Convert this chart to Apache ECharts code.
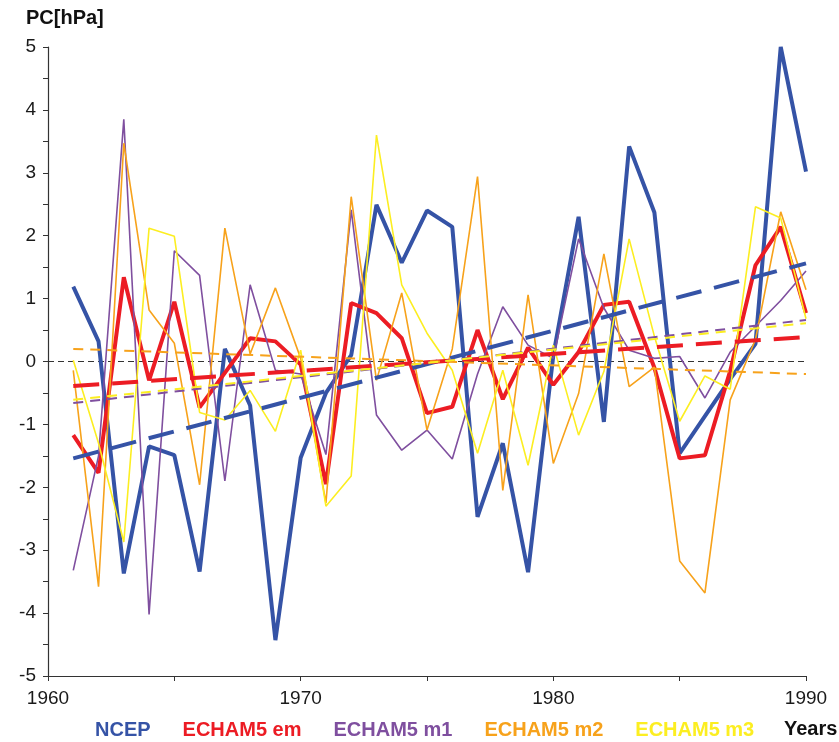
<!DOCTYPE html>
<html>
<head>
<meta charset="utf-8">
<script src="https://cdn.jsdelivr.net/npm/echarts@6/dist/echarts.min.js"></script>
<style>
  html, body { margin: 0; padding: 0; background: #fff; }
  #main { width: 839px; height: 742px; }
</style>
</head>
<body>
<div id="main"></div>
<script>
// years of the PC series
const years = [1961, 1962, 1963, 1964, 1965, 1966, 1967, 1968, 1969, 1970,
  1971, 1972, 1973, 1974, 1975, 1976, 1977, 1978, 1979, 1980,
  1981, 1982, 1983, 1984, 1985, 1986, 1987, 1988, 1989, 1990];

const ncep = [1.19, 0.32, -3.37, -1.35, -1.49, -3.34, 0.2, -0.7, -4.43, -1.53,
  -0.5, 0.1, 2.49, 1.57, 2.4, 2.14, -2.47, -1.3, -3.35, 0.1,
  2.3, -0.96, 3.42, 2.37, -1.46, -0.87, -0.28, 0.28, 5.0, 3.02];
const echamEm = [-1.17, -1.77, 1.34, -0.3, 0.95, -0.73, -0.18, 0.37, 0.32, -0.05,
  -1.95, 0.93, 0.77, 0.37, -0.82, -0.72, 0.5, -0.6, 0.22, -0.37,
  0.15, 0.9, 0.95, -0.1, -1.54, -1.49, -0.15, 1.53, 2.14, 0.77];
const echamM1 = [-3.32, -1.5, 3.85, -4.02, 1.76, 1.37, -1.9, 1.22, -0.14, -0.2,
  -1.48, 2.41, -0.85, -1.41, -1.09, -1.55, -0.2, 0.87, 0.26, 0.05,
  1.95, 0.85, 0.18, 0.05, 0.08, -0.58, 0.15, 0.56, 0.97, 1.44];
const echamM2 = [-0.14, -3.58, 3.47, 0.82, 0.29, -1.96, 2.12, 0.12, 1.17, 0.05,
  -2.25, 2.62, -0.3, 1.09, -1.09, 0.2, 2.94, -2.05, 1.06, -1.62,
  -0.51, 1.71, -0.4, -0.09, -3.17, -3.68, -0.61, 0.35, 2.38, 1.14];
const echamM3 = [0.02, -1.3, -2.87, 2.12, 1.99, -0.81, -0.93, -0.46, -1.11, 0.18,
  -2.3, -1.82, 3.6, 1.22, 0.45, -0.14, -1.46, -0.14, -1.65, 0.26,
  -1.17, -0.16, 1.95, 0.4, -0.95, -0.23, -0.44, 2.46, 2.28, 0.68];

// linear trends, value at first and last year
const trendNcep = [-1.54, 1.56];
const trendEm = [-0.39, 0.39];
const trendM1 = [-0.66, 0.66];
const trendM2 = [0.2, -0.2];
const trendM3 = [-0.61, 0.61];

// zero reference line, from axis start to axis end
const zeroLine = [[1960, 0], [1990, 0]];

const colors = {
  ncep: '#3553a6',
  em: '#ec1c24',
  m1: '#7f4f9f',
  m2: '#f7a21b',
  m3: '#fcee21'
};

const font = '"Liberation Sans", Arial, Helvetica, sans-serif';

const pairs = vals => years.map((y, i) => [y, vals[i]]);
const trendPairs = t => [[years[0], t[0]], [years[years.length - 1], t[1]]];

const solid = (name, vals, color, width) => ({
  name,
  type: 'line',
  data: pairs(vals),
  showSymbol: false,
  symbol: 'none',
  lineStyle: { color, width },
  itemStyle: { color },
  silent: true,
  animation: false
});

const trend = (name, t, color, width, dash) => ({
  name,
  type: 'line',
  data: trendPairs(t),
  showSymbol: false,
  symbol: 'none',
  lineStyle: { color, width, type: dash },
  silent: true,
  animation: false,
  z: 5
});

const myChart = echarts.init(document.getElementById('main'));

const option = {
  backgroundColor: '#fff',
  animation: false,
  grid: { left: 48, right: 33, top: 47, bottom: 66 },
  xAxis: {
    type: 'value',
    min: 1960,
    max: 1990,
    interval: 5,
    axisLine: { onZero: false, lineStyle: { color: '#333', width: 1.2 } },
    axisTick: { show: true, inside: false, length: 5, lineStyle: { color: '#333' } },
    axisLabel: {
      color: '#1a1a1a',
      fontFamily: font,
      fontSize: 19,
      margin: 13,
      formatter: v => (v % 10 === 0 ? String(v) : '')
    },
    splitLine: { show: false }
  },
  yAxis: {
    type: 'value',
    min: -5,
    max: 5,
    interval: 1,
    axisLine: { show: true, onZero: false, lineStyle: { color: '#333', width: 1.2 } },
    axisTick: { show: true, length: 5, lineStyle: { color: '#333' } },
    minorTick: { show: true, splitNumber: 2, length: 5, lineStyle: { color: '#333' } },
    axisLabel: { color: '#1a1a1a', fontFamily: font, fontSize: 19, margin: 12 },
    splitLine: { show: false }
  },
  legend: {
    left: 85,
    top: 715,
    icon: 'none',
    itemWidth: 0,
    itemHeight: 0,
    itemGap: 27,
    selectedMode: false,
    data: [
      { name: 'NCEP', textStyle: { color: colors.ncep } },
      { name: 'ECHAM5 em', textStyle: { color: colors.em } },
      { name: 'ECHAM5 m1', textStyle: { color: colors.m1 } },
      { name: 'ECHAM5 m2', textStyle: { color: colors.m2 } },
      { name: 'ECHAM5 m3', textStyle: { color: colors.m3 } }
    ],
    textStyle: { fontFamily: font, fontSize: 20, fontWeight: 'bold' }
  },
  graphic: [
    {
      type: 'text',
      left: 26,
      top: 8,
      style: { text: 'PC[hPa]', font: 'bold 20px ' + font, fill: '#111' }
    },
    {
      type: 'text',
      left: 784,
      top: 719,
      style: { text: 'Years', font: 'bold 20px ' + font, fill: '#111' }
    }
  ],
  series: [
    {
      name: 'zero',
      type: 'line',
      data: zeroLine,
      showSymbol: false,
      symbol: 'none',
      lineStyle: { color: '#333', width: 1, type: [6, 4] },
      silent: true,
      animation: false,
      z: 1
    },
    solid('NCEP', ncep, colors.ncep, 4),
    solid('ECHAM5 em', echamEm, colors.em, 4),
    solid('ECHAM5 m1', echamM1, colors.m1, 1.6),
    solid('ECHAM5 m2', echamM2, colors.m2, 1.6),
    solid('ECHAM5 m3', echamM3, colors.m3, 1.6),
    trend('NCEP trend', trendNcep, colors.ncep, 4, [26, 13]),
    trend('ECHAM5 em trend', trendEm, colors.em, 4, [26, 13]),
    trend('ECHAM5 m1 trend', trendM1, colors.m1, 2, [10, 7]),
    trend('ECHAM5 m2 trend', trendM2, colors.m2, 2, [10, 7]),
    trend('ECHAM5 m3 trend', trendM3, colors.m3, 2, [10, 7])
  ]
};

myChart.setOption(option);
</script>
</body>
</html>
